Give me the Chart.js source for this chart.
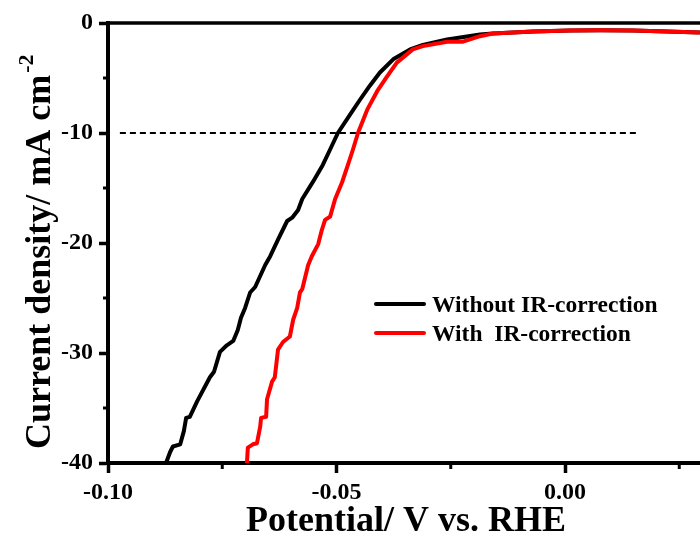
<!DOCTYPE html>
<html><head><meta charset="utf-8">
<script src="https://cdn.jsdelivr.net/npm/chart.js@4.4.1/dist/chart.umd.min.js"></script>
<style>html,body{margin:0;padding:0;background:#fff;overflow:hidden}#wrap{width:700px;height:537px;position:relative}</style>
</head><body><div id="wrap"><canvas id="c"></canvas></div>
<script>
// Data
const potentialWithout = [-0.0873,-0.0864,-0.0858,-0.0842,-0.0834,-0.0829,-0.0821,-0.0805,-0.0777,-0.0768,-0.0755,-0.0740,-0.0726,-0.0716,-0.0709,-0.0700,-0.0689,-0.0678,-0.0656,-0.0645,-0.0628,-0.0608,-0.0597,-0.0584,-0.0575,-0.0551,-0.0530,-0.0514,-0.0497,-0.0470,-0.0449,-0.0427,-0.0405,-0.0376,-0.0339,-0.0311,-0.0258,-0.0186,-0.0158,-0.0070,0.0011,0.0077,0.0149,0.0223,0.0295];
const currentWithout   = [-40.0,-39.0,-38.5,-38.3,-37.1,-35.9,-35.8,-34.4,-32.2,-31.7,-29.9,-29.3,-28.9,-27.9,-26.8,-25.9,-24.5,-24.0,-22.0,-21.2,-19.7,-18.0,-17.7,-17.0,-16.0,-14.4,-12.9,-11.5,-10.0,-8.3,-7.0,-5.7,-4.5,-3.3,-2.4,-2.0,-1.5,-1.05,-0.95,-0.77,-0.68,-0.65,-0.68,-0.77,-0.86];
const potentialWith = [-0.0696,-0.0694,-0.0683,-0.0674,-0.0667,-0.0665,-0.0654,-0.0652,-0.0641,-0.0635,-0.0628,-0.0617,-0.0602,-0.0595,-0.0586,-0.0580,-0.0575,-0.0562,-0.0554,-0.0540,-0.0532,-0.0525,-0.0514,-0.0503,-0.0488,-0.0475,-0.0464,-0.0453,-0.0433,-0.0411,-0.0390,-0.0368,-0.0333,-0.0311,-0.0258,-0.0223,-0.0186,-0.0158,-0.0070,0.0011,0.0077,0.0149,0.0223,0.0295];
const currentWith   = [-40.0,-38.6,-38.3,-38.2,-36.7,-35.9,-35.8,-34.2,-32.6,-32.2,-29.7,-29.0,-28.5,-27.0,-25.9,-24.5,-24.2,-22.0,-21.2,-20.1,-18.8,-17.9,-17.6,-16.0,-14.5,-12.9,-11.5,-10.0,-7.9,-6.2,-4.9,-3.6,-2.4,-2.1,-1.7,-1.7,-1.2,-0.95,-0.77,-0.68,-0.65,-0.68,-0.77,-0.86];
const refLinePotential = [-0.0974, 0.016];
const refLineCurrent   = [-10, -10];
const xMajorTicks = [-0.10, -0.05, 0.00];
const xMinorTicks = [-0.075, -0.025, 0.025];
const yMajorTicks = [-40, -30, -20, -10, 0];
const yMinorTicks = [-35, -25, -15, -5];
const seriesNames = ['Without IR-correction', 'With  IR-correction'];
const xTitle = 'Potential/ V vs. RHE';
const yTitle = 'Current density/ mA cm';
const yTitleSup = '-2';

const toPts = (xs, ys) => xs.map((x, i) => ({x: x, y: ys[i]}));
const SERIF = '"Liberation Serif", "Times New Roman", serif';

const decor = {
  id: 'decor',
  afterDraw(chart) {
    const ctx = chart.ctx, ca = chart.chartArea;
    const xs = chart.scales.x, ys = chart.scales.y;
    ctx.save();
    ctx.strokeStyle = '#000';
    // top frame line
    ctx.lineWidth = 3.5;
    ctx.beginPath(); ctx.moveTo(ca.left - 2, ca.top); ctx.lineTo(ca.right, ca.top); ctx.stroke();
    // minor ticks
    ctx.lineWidth = 3;
    xMinorTicks.forEach(v => {
      const p = xs.getPixelForValue(v);
      ctx.beginPath(); ctx.moveTo(p, ca.bottom); ctx.lineTo(p, ca.bottom + 6); ctx.stroke();
    });
    yMinorTicks.forEach(v => {
      const p = ys.getPixelForValue(v);
      ctx.beginPath(); ctx.moveTo(ca.left, p); ctx.lineTo(ca.left - 5, p); ctx.stroke();
    });
    // axis titles
    ctx.fillStyle = '#000';
    ctx.font = 'bold 36px ' + SERIF;
    ctx.textAlign = 'center'; ctx.textBaseline = 'alphabetic';
    ctx.fillText(xTitle, 406, 531);
    ctx.save();
    ctx.translate(50, 449);
    ctx.rotate(-Math.PI / 2);
    ctx.textAlign = 'left';
    ctx.fillText(yTitle, 0, 0);
    const w = ctx.measureText(yTitle).width;
    ctx.font = 'bold 22px ' + SERIF;
    ctx.fillText(yTitleSup, w + 2, -17);
    ctx.restore();
    // legend
    const items = [{c: '#000', y: 304}, {c: '#ff0000', y: 333}];
    ctx.font = 'bold 23.5px ' + SERIF;
    ctx.textAlign = 'left';
    items.forEach((it, i) => {
      ctx.strokeStyle = it.c; ctx.lineWidth = 4; ctx.lineCap = 'round';
      ctx.beginPath(); ctx.moveTo(376, it.y); ctx.lineTo(424, it.y); ctx.stroke();
      ctx.fillStyle = '#000';
      ctx.fillText(seriesNames[i], 432, it.y + 8);
    });
    ctx.restore();
  }
};

new Chart(document.getElementById('c'), {
  type: 'line',
  data: {
    datasets: [
      {label: seriesNames[1], data: toPts(potentialWith, currentWith), borderColor: '#ff0000', borderWidth: 4, order: 0},
      {label: seriesNames[0], data: toPts(potentialWithout, currentWithout), borderColor: '#000000', borderWidth: 4, order: 1},
      {label: 'ref', data: toPts(refLinePotential, refLineCurrent), borderColor: '#000000', borderWidth: 2, borderDash: [6, 4], order: 2}
    ]
  },
  options: {
    responsive: true, maintainAspectRatio: false, animation: false,
    layout: {padding: {top: 23, right: 0, bottom: 0, left: 0}},
    elements: {point: {radius: 0}, line: {tension: 0, borderJoinStyle: 'round', borderCapStyle: 'butt', fill: false}},
    plugins: {legend: {display: false}, tooltip: {enabled: false}},
    scales: {
      x: {
        type: 'linear', min: -0.1, max: 0.02954,
        afterFit: s => { s.height = 74; },
        afterBuildTicks: s => { s.ticks = xMajorTicks.map(v => ({value: v})); },
        grid: {drawOnChartArea: false, drawTicks: true, tickLength: 10, tickColor: '#000', tickWidth: 3.5},
        border: {display: true, color: '#000', width: 4},
        ticks: {autoSkip: false, maxRotation: 0, padding: 5, color: '#000', font: {family: SERIF, size: 24, weight: 'bold'}, callback: v => v.toFixed(2)}
      },
      y: {
        type: 'linear', min: -40, max: 0,
        afterFit: s => { s.width = 108; },
        afterBuildTicks: s => { s.ticks = yMajorTicks.map(v => ({value: v})); },
        grid: {drawOnChartArea: false, drawTicks: true, tickLength: 9, tickColor: '#000', tickWidth: 3.5},
        border: {display: true, color: '#000', width: 4},
        ticks: {autoSkip: false, padding: 6, color: '#000', font: {family: SERIF, size: 24, weight: 'bold'}, callback: v => String(v)}
      }
    }
  },
  plugins: [decor]
});
</script>
</body></html>
